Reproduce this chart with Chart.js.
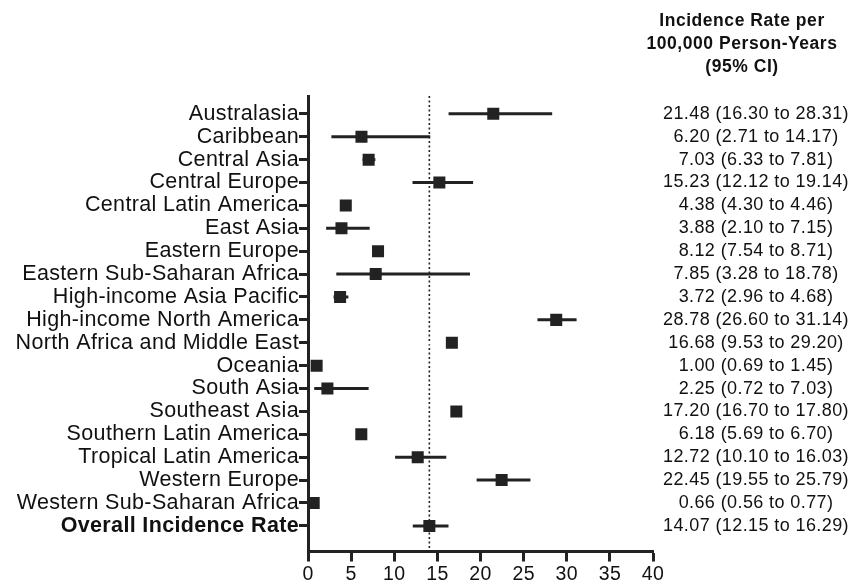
<!DOCTYPE html>
<html>
<head>
<meta charset="utf-8">
<script src="https://cdn.jsdelivr.net/npm/chart.js@4.4.1/dist/chart.umd.min.js"></script>
<style>
  html, body { margin: 0; padding: 0; background: #fff; }
  #wrap { width: 857px; height: 588px; }
</style>
</head>
<body>
<div id="wrap"><canvas id="forest"></canvas></div>
<script>
const regions = [
  "Australasia", "Caribbean", "Central Asia", "Central Europe", "Central Latin America",
  "East Asia", "Eastern Europe", "Eastern Sub-Saharan Africa", "High-income Asia Pacific",
  "High-income North America", "North Africa and Middle East", "Oceania", "South Asia",
  "Southeast Asia", "Southern Latin America", "Tropical Latin America", "Western Europe",
  "Western Sub-Saharan Africa", "Overall Incidence Rate"
];
const rates = [21.48, 6.20, 7.03, 15.23, 4.38, 3.88, 8.12, 7.85, 3.72, 28.78, 16.68, 1.00, 2.25, 17.20, 6.18, 12.72, 22.45, 0.66, 14.07];
const lower = [16.30, 2.71, 6.33, 12.12, 4.30, 2.10, 7.54, 3.28, 2.96, 26.60, 9.53, 0.69, 0.72, 16.70, 5.69, 10.10, 19.55, 0.56, 12.15];
const upper = [28.31, 14.17, 7.81, 19.14, 4.46, 7.15, 8.71, 18.78, 4.68, 31.14, 29.20, 1.45, 7.03, 17.80, 6.70, 16.03, 25.79, 0.77, 16.29];
const xTicks = [0, 5, 10, 15, 20, 25, 30, 35, 40];
const overallRate = rates[rates.length - 1];
// in the original figure this interval is drawn in white (it only blanks the reference line)
const whiteWhiskers = ["North Africa and Middle East"];

const ink = "#222222";
const fontFamily = "'Liberation Sans', Arial, sans-serif";

// whiskers, reference line and the right-hand text column
const forestExtras = {
  id: "forestExtras",
  beforeDraw(chart) {
    chart.ctx.letterSpacing = "0.35px";
  },
  beforeDatasetsDraw(chart) {
    const { ctx, scales: { x, y }, chartArea } = chart;
    ctx.save();
    // dotted reference line at the overall rate
    ctx.strokeStyle = ink;
    ctx.lineWidth = 1.6;
    ctx.setLineDash([2, 2.5]);
    const rx = x.getPixelForValue(overallRate);
    ctx.beginPath();
    ctx.moveTo(rx, chartArea.top);
    ctx.lineTo(rx, chartArea.bottom);
    ctx.stroke();
    ctx.setLineDash([]);
    // confidence intervals
    ctx.lineWidth = 3;
    regions.forEach((r, i) => {
      const py = y.getPixelForValue(i);
      ctx.strokeStyle = whiteWhiskers.includes(r) ? "#ffffff" : ink;
      ctx.beginPath();
      ctx.moveTo(x.getPixelForValue(lower[i]), py);
      ctx.lineTo(x.getPixelForValue(upper[i]), py);
      ctx.stroke();
    });
    ctx.restore();
  },
  afterDraw(chart) {
    const { ctx, scales: { y } } = chart;
    ctx.save();
    ctx.fillStyle = "#111";
    ctx.textBaseline = "middle";
    ctx.textAlign = "center";
    ctx.letterSpacing = "0.55px";
    ctx.font = "bold 17.5px " + fontFamily;
    ["Incidence Rate per", "100,000 Person-Years", "(95% CI)"].forEach((t, k) => {
      ctx.fillText(t, 742, 21 + k * 23);
    });
    ctx.letterSpacing = "0.4px";
    ctx.font = "18px " + fontFamily;
    regions.forEach((r, i) => {
      const txt = rates[i].toFixed(2) + " (" + lower[i].toFixed(2) + " to " + upper[i].toFixed(2) + ")";
      ctx.fillText(txt, 756, y.getPixelForValue(i));
    });
    ctx.restore();
  }
};

new Chart(document.getElementById("forest"), {
  type: "scatter",
  data: {
    datasets: [{
      data: rates.map((v, i) => ({ x: v, y: i })),
      pointStyle: "rect",
      pointRadius: 8.5,
      pointHoverRadius: 8.5,
      backgroundColor: ink,
      borderColor: ink,
      borderWidth: 0
    }]
  },
  options: {
    responsive: true,
    maintainAspectRatio: false,
    animation: false,
    layout: { padding: { top: 96, right: 204, bottom: 0, left: 0 } },
    plugins: { legend: { display: false }, tooltip: { enabled: false } },
    scales: {
      x: {
        type: "linear",
        min: 0,
        max: 40,
        afterBuildTicks: (s) => { s.ticks = xTicks.map(v => ({ value: v })); },
        grid: { drawOnChartArea: false, tickLength: 10, tickWidth: 3, tickColor: ink },
        border: { color: ink, width: 3 },
        ticks: {
          color: "#111",
          font: { family: fontFamily, size: 19.5, lineHeight: 1.05 },
          padding: 3,
          maxRotation: 0,
          autoSkip: false
        }
      },
      y: {
        type: "linear",
        reverse: true,
        min: -0.78,
        max: 19.12,
        afterBuildTicks: (s) => { s.ticks = regions.map((r, i) => ({ value: i })); },
        afterFit: (s) => { s.width = 308; },
        grid: { drawOnChartArea: false, tickLength: 9, tickWidth: 3, tickColor: ink },
        border: { color: ink, width: 3 },
        ticks: {
          color: "#111",
          padding: 0,
          autoSkip: false,
          callback: (v) => regions[v],
          font: (c) => ({
            family: fontFamily,
            size: 21.5,
            weight: c.index === regions.length - 1 ? "bold" : "normal"
          })
        }
      }
    }
  },
  plugins: [forestExtras]
});
</script>
</body>
</html>
